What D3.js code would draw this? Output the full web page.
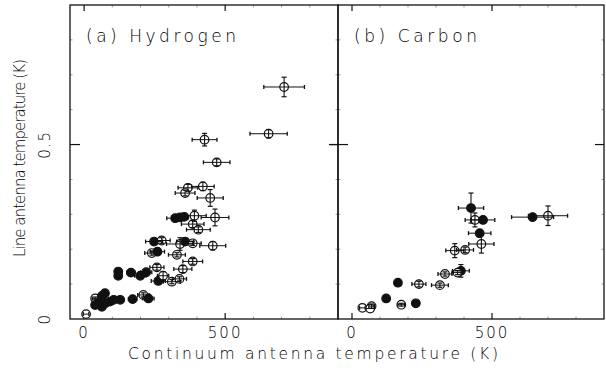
<!DOCTYPE html>
<html><head><meta charset="utf-8">
<script src="https://cdn.jsdelivr.net/npm/d3@7"></script>
<style>
html,body{margin:0;padding:0;background:#fff;}
svg{display:block;}
text{font-family:"DejaVu Sans","Liberation Sans",sans-serif;font-weight:200;fill:#000;}
</style></head>
<body>
<svg id="chart" width="606" height="376"></svg>
<script>
// ---- data ----
const panelTitles = ["(a) Hydrogen", "(b) Carbon"];
const xTickValues = [0, 500];
const xTickLabels = ["0", "500"];
const yTickValues = [0, 0.5];
const yTickLabels = ["0", "0.5"];
const xLabel = "Continuum antenna temperature (K)";
const yLabel = "Line antenna temperature (K)";

// Hydrogen
const hydX    = [709,654,427,470,368,421,358,447,464,391,323,340,355,385,405,456,340,358,385,248,275,240,260,329,385,350,258,220,199,166,121,121,263,311,338,280,210,228,172,128,74,39,51,92,63,39,7,63,75,105];
const hydY    = [0.665,0.531,0.514,0.449,0.376,0.380,0.361,0.347,0.291,0.296,0.289,0.291,0.293,0.272,0.256,0.210,0.215,0.222,0.217,0.222,0.225,0.189,0.193,0.184,0.165,0.143,0.148,0.134,0.124,0.133,0.136,0.124,0.109,0.107,0.115,0.124,0.069,0.059,0.057,0.055,0.074,0.059,0.045,0.050,0.035,0.040,0.014,0.066,0.045,0.055];
const hydXErr = [72,66,44,47,35,40,35,46,49,42,30,30,0,40,42,46,48,30,30,30,30,25,25,30,35,32,25,20,20,15,0,0,25,30,25,20,20,20,15,0,0,10,0,0,0,0,10,0,0,0];
const hydYErr = [0.028,0.012,0.018,0.010,0.010,0.012,0.008,0.024,0.024,0.016,0.006,0.006,0,0.010,0.008,0.012,0.018,0.008,0.006,0.006,0.008,0.006,0.006,0.006,0.008,0.010,0.008,0.006,0.006,0.004,0,0,0.006,0.006,0.006,0.012,0.006,0.004,0,0,0,0.004,0,0,0,0,0,0,0,0];
const hydFilled = [0,0,0,0,0,0,0,0,0,0,1,1,1,0,0,0,0,1,0,1,0,0,1,0,0,0,0,1,1,1,1,1,1,0,0,0,0,1,1,1,1,0,1,1,1,1,0,1,1,1];

// Carbon
const carX    = [425,439,468,456,462,367,404,389,377,332,314,239,164,122,176,228,37,70,65,645,700];
const carY    = [0.318,0.284,0.284,0.246,0.215,0.196,0.198,0.138,0.133,0.129,0.097,0.100,0.104,0.059,0.041,0.045,0.032,0.037,0.030,0.292,0.296];
const carXErr = [45,35,42,40,45,32,30,30,20,25,30,25,10,0,12,12,10,10,0,75,70];
const carYErr = [0.043,0.020,0.008,0.010,0.026,0.020,0.008,0.018,0.006,0.006,0.006,0.008,0.004,0.008,0.004,0.004,0,0.006,0,0.010,0.028];
const carFilled = [1,0,1,1,0,0,0,1,0,0,0,0,1,1,0,1,0,0,0,1,0];

// ---- layout ----
const svg = d3.select("#chart");
const yTop = 5, yBot = 319;
const panels = [
  {x0:70, x1:338, title:panelTitles[0], X:hydX, Y:hydY, XE:hydXErr, YE:hydYErr, F:hydFilled},
  {x0:338, x1:604, title:panelTitles[1], X:carX, Y:carY, XE:carXErr, YE:carYErr, F:carFilled}
];
const y = d3.scaleLinear().domain([0, 0.9]).range([yBot, yTop]);
const ink = "#111";

panels.forEach((p, pi) => {
  const x = d3.scaleLinear().domain([-50, 900]).range([p.x0, p.x1]);
  const g = svg.append("g");

  // minor ticks
  const minorX = d3.range(100, 900, 100).filter(v => !xTickValues.includes(v));
  g.selectAll(null).data(minorX).join("line")
    .attr("x1", d => x(d)).attr("x2", d => x(d))
    .attr("y1", yBot).attr("y2", yBot - 2.5)
    .attr("stroke", ink).attr("stroke-width", 0.8).attr("opacity", 0.5);
  g.selectAll(null).data(minorX).join("line")
    .attr("x1", d => x(d)).attr("x2", d => x(d))
    .attr("y1", yTop).attr("y2", yTop + 2.5)
    .attr("stroke", ink).attr("stroke-width", 0.8).attr("opacity", 0.5);
  const minorY = d3.range(0.1, 0.9, 0.1).filter(v => Math.abs(v - 0.5) > 1e-6);
  g.selectAll(null).data(minorY).join("line")
    .attr("x1", p.x0).attr("x2", p.x0 + 2.5)
    .attr("y1", d => y(d)).attr("y2", d => y(d))
    .attr("stroke", ink).attr("stroke-width", 0.8).attr("opacity", 0.5);
  g.selectAll(null).data(minorY).join("line")
    .attr("x1", p.x1).attr("x2", p.x1 - 2.5)
    .attr("y1", d => y(d)).attr("y2", d => y(d))
    .attr("stroke", ink).attr("stroke-width", 0.8).attr("opacity", 0.5);

  // major x ticks (top & bottom)
  g.selectAll(null).data(xTickValues).join("line")
    .attr("x1", d => x(d)).attr("x2", d => x(d))
    .attr("y1", yBot).attr("y2", yBot - 6)
    .attr("stroke", ink).attr("stroke-width", 1.2);
  g.selectAll(null).data(xTickValues).join("line")
    .attr("x1", d => x(d)).attr("x2", d => x(d))
    .attr("y1", yTop).attr("y2", yTop + 6)
    .attr("stroke", ink).attr("stroke-width", 1.2);
  // major y ticks (0.5)
  g.selectAll(null).data(yTickValues.filter(v => v > 0)).join("line")
    .attr("x1", p.x0 - (pi === 1 ? 8 : 0)).attr("x2", p.x0 + 10)
    .attr("y1", d => y(d)).attr("y2", d => y(d))
    .attr("stroke", ink).attr("stroke-width", 1.2);
  g.selectAll(null).data(yTickValues.filter(v => v > 0)).join("line")
    .attr("x1", p.x1).attr("x2", p.x1 - 9)
    .attr("y1", d => y(d)).attr("y2", d => y(d))
    .attr("stroke", ink).attr("stroke-width", 1.2);

  // x tick labels
  g.selectAll(null).data(xTickValues).join("text")
    .attr("x", d => x(d)).attr("y", 338)
    .attr("text-anchor", "middle")
    .attr("font-size", 15).attr("letter-spacing", 2)
    .text((d, i) => xTickLabels[i]);

  // frame
  g.append("rect").attr("x", p.x0).attr("y", yTop)
    .attr("width", p.x1 - p.x0).attr("height", yBot - yTop)
    .attr("fill", "none").attr("stroke", ink).attr("stroke-width", 1.3);

  // title
  g.append("text").attr("x", p.x0 + 16).attr("y", 42)
    .attr("font-size", 17)
    .attr("textLength", pi === 0 ? 150 : 123).attr("lengthAdjust", "spacing")
    .text(p.title);

  // points
  const idx = d3.range(p.X.length);
  g.selectAll(null).data(idx).join("circle")
    .attr("cx", i => x(p.X[i])).attr("cy", i => y(p.Y[i])).attr("r", 4.3)
    .attr("fill", i => p.F[i] ? ink : "#fff")
    .attr("stroke", ink).attr("stroke-width", 1.2);
  // x error bars
  const xe = idx.filter(i => p.XE[i] > 0);
  g.selectAll(null).data(xe).join("line")
    .attr("x1", i => x(p.X[i] - p.XE[i])).attr("x2", i => x(p.X[i] + p.XE[i]))
    .attr("y1", i => y(p.Y[i])).attr("y2", i => y(p.Y[i]))
    .attr("stroke", ink).attr("stroke-width", 1);
  g.selectAll(null).data(xe.flatMap(i => [[i,-1],[i,1]])).join("line")
    .attr("x1", d => x(p.X[d[0]] + d[1]*p.XE[d[0]])).attr("x2", d => x(p.X[d[0]] + d[1]*p.XE[d[0]]))
    .attr("y1", d => y(p.Y[d[0]]) - 2).attr("y2", d => y(p.Y[d[0]]) + 2)
    .attr("stroke", ink).attr("stroke-width", 1.3);
  // y error bars
  const ye = idx.filter(i => p.YE[i] > 0);
  g.selectAll(null).data(ye).join("line")
    .attr("x1", i => x(p.X[i])).attr("x2", i => x(p.X[i]))
    .attr("y1", i => y(p.Y[i] - p.YE[i])).attr("y2", i => y(p.Y[i] + p.YE[i]))
    .attr("stroke", ink).attr("stroke-width", 1.1);
  g.selectAll(null).data(ye.flatMap(i => [[i,-1],[i,1]])).join("line")
    .attr("x1", d => x(p.X[d[0]]) - 2.5).attr("x2", d => x(p.X[d[0]]) + 2.5)
    .attr("y1", d => y(p.Y[d[0]] + d[1]*p.YE[d[0]])).attr("y2", d => y(p.Y[d[0]] + d[1]*p.YE[d[0]]))
    .attr("stroke", ink).attr("stroke-width", 1.2);
  // horizontal cross line inside hollow markers without x error
  g.selectAll(null).data(idx.filter(i => !p.F[i] && p.XE[i] === 0)).join("line")
    .attr("x1", i => x(p.X[i]) - 4.3).attr("x2", i => x(p.X[i]) + 4.3)
    .attr("y1", i => y(p.Y[i])).attr("y2", i => y(p.Y[i]))
    .attr("stroke", ink).attr("stroke-width", 1);
});

// y tick labels (rotated)
yTickValues.forEach((v, i) => {
  svg.append("text")
    .attr("transform", `translate(45,${y(v)}) rotate(-90)`)
    .attr("text-anchor", "middle").attr("dy", "0.35em")
    .attr("font-size", 15).attr("letter-spacing", 1.5)
    .text(yTickLabels[i]);
});

// axis labels
svg.append("text").attr("x", 313).attr("y", 359)
  .attr("text-anchor", "middle").attr("font-size", 15.5)
  .attr("textLength", 370).attr("lengthAdjust", "spacing")
  .text(xLabel);
svg.append("text")
  .attr("transform", "translate(20,158) rotate(-90)")
  .attr("text-anchor", "middle").attr("dy", "0.35em").attr("font-size", 15)
  .attr("textLength", 198).attr("lengthAdjust", "spacing")
  .text(yLabel);
</script>
</body></html>
